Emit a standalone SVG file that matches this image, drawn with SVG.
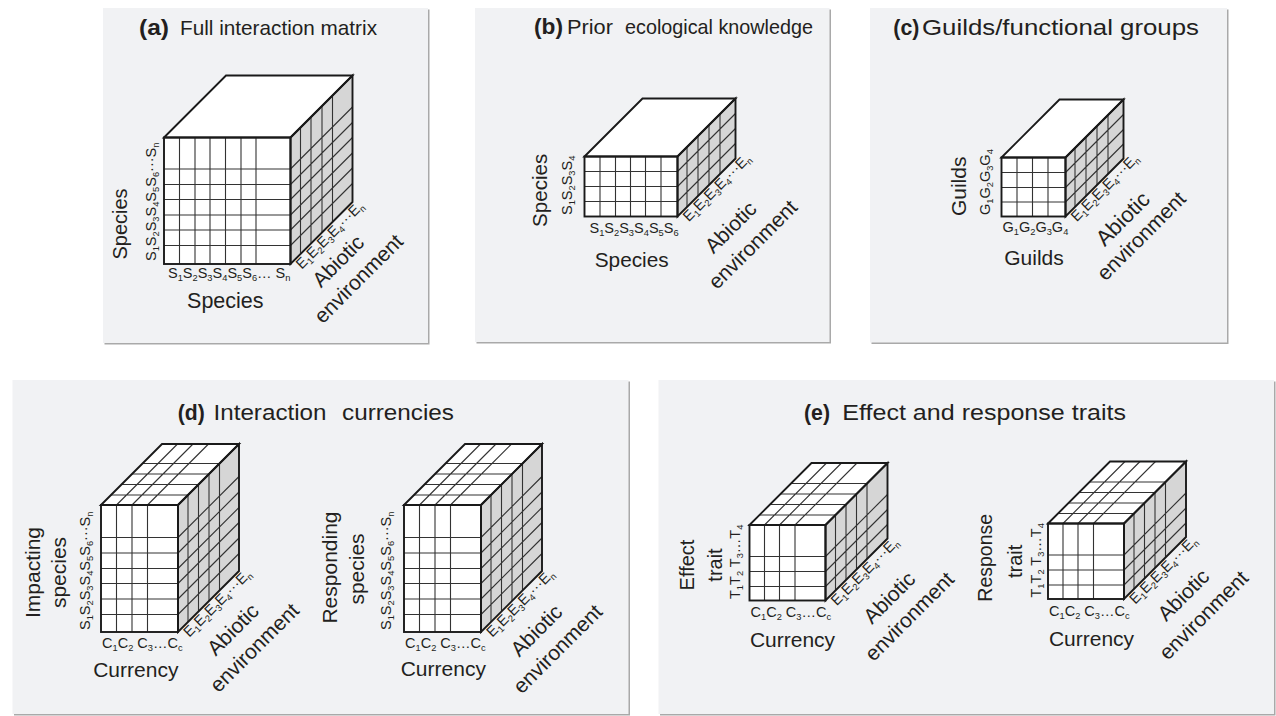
<svg xmlns="http://www.w3.org/2000/svg" width="1276" height="716" viewBox="0 0 1276 716">
<style>
.pbg{fill:#f1f2f4}
.psh{fill:#a9a9a9}
.fw{fill:#fff}
.fg{fill:#d6d6d6}
.gl{fill:none;stroke:#333;stroke-width:1.1}
.ed{fill:none;stroke:#1a1a1a;stroke-width:1.9;stroke-linejoin:miter}
text{font-family:"Liberation Sans",Arial,Helvetica,sans-serif;fill:#231f20}
.ti{font-size:21px}
.tl{font-size:22.5px}
.tb{font-weight:bold;font-size:22px}
.ax{font-size:21px}
.tk{font-size:14.5px}
.s{font-size:9.3px;baseline-shift:-3px}
</style>
<defs>
<g id="cubeD">
<rect class="fw" x="0" y="0" width="77" height="127"/>
<polygon class="fg" points="77,0 138,-61 138,66 77,127"/>
<polygon class="fw" points="0,0 61,-61 138,-61 77,0"/>
<path class="gl" d="M15.5 0V127M31 0V127M46.5 0V127M0 32.5H77M0 48H77M0 63.5H77M0 78.5H77M0 94H77M0 109.5H77"/>
<path class="gl" d="M87 -10V117M97.5 -20.5V106.5M108 -31V96M118.5 -41.5V85.5M77 32.5l61 -61M77 48l61 -61M77 63.5l61 -61M77 78.5l61 -61M77 94l61 -61M77 109.5l61 -61"/>
<path class="gl" d="M15.5 0l61 -61M31 0l61 -61M46.5 0l61 -61M10 -10H87M20.5 -20.5H97.5M31 -31H108M41.5 -41.5H118.5"/>
<rect class="ed" x="0" y="0" width="77" height="127"/>
<polygon class="ed" points="77,0 138,-61 138,66 77,127"/>
<polygon class="ed" points="0,0 61,-61 138,-61 77,0"/>
</g>
<g id="cubeE">
<rect class="fw" x="0" y="0" width="76" height="75.5"/>
<polygon class="fg" points="76,0 138,-62 138,13.5 76,75.5"/>
<polygon class="fw" points="0,0 62,-62 138,-62 76,0"/>
<path class="gl" d="M15 0V75.5M30 0V75.5M45.5 0V75.5M0 31.5H76M0 46.5H76M0 61.5H76"/>
<path class="gl" d="M86 -10V65.5M96.5 -20.5V55M107 -31V44.5M117.5 -41.5V34M76 31.5l62 -62M76 46.5l62 -62M76 61.5l62 -62"/>
<path class="gl" d="M15 0l62 -62M30 0l62 -62M45.5 0l62 -62M10 -10H86M20.5 -20.5H96.5M31 -31H107M41.5 -41.5H117.5"/>
<rect class="ed" x="0" y="0" width="76" height="75.5"/>
<polygon class="ed" points="76,0 138,-62 138,13.5 76,75.5"/>
<polygon class="ed" points="0,0 62,-62 138,-62 76,0"/>
</g>
</defs>

<g id="panel-a">
<rect class="psh" x="104.5" y="9.5" width="325" height="335"/>
<rect class="pbg" x="103" y="8" width="325" height="335"/>
<text class="tb" x="139" y="35" textLength="30" lengthAdjust="spacingAndGlyphs">(a)</text>
<text class="ti" x="180" y="35" textLength="197" lengthAdjust="spacingAndGlyphs">Full interaction matrix</text>
<g id="cube-a">
<rect class="fw" x="164" y="137.5" width="126.5" height="126.5"/>
<polygon class="fg" points="290.5,137.5 352.5,75.5 352.5,202 290.5,264"/>
<polygon class="fw" points="164,137.5 226,75.5 352.5,75.5 290.5,137.5"/>
<path class="gl" d="M179.5 137.5V264M195 137.5V264M210 137.5V264M225.5 137.5V264M241 137.5V264M256 137.5V264M164 169H290.5M164 184.5H290.5M164 199.5H290.5M164 215H290.5M164 230H290.5M164 245.5H290.5"/>
<path class="gl" d="M300.5 127.5V254M311 117V243.5M322 106V232.5M332.5 95.5V222M290.5 169l62 -62M290.5 184.5l62 -62M290.5 199.5l62 -62M290.5 215l62 -62M290.5 230l62 -62M290.5 245.5l62 -62"/>
<rect class="ed" x="164" y="137.5" width="126.5" height="126.5"/>
<polygon class="ed" points="290.5,137.5 352.5,75.5 352.5,202 290.5,264"/>
<polygon class="ed" points="164,137.5 226,75.5 352.5,75.5 290.5,137.5"/>
</g>
<text class="tk" transform="translate(156,261) rotate(-90)">S<tspan class="s">1</tspan>S<tspan class="s">2</tspan>S<tspan class="s">3</tspan>S<tspan class="s">4</tspan>S<tspan class="s">5</tspan>S<tspan class="s">6</tspan>···S<tspan class="s">n</tspan></text>
<text class="tk" x="168" y="278">S<tspan class="s">1</tspan>S<tspan class="s">2</tspan>S<tspan class="s">3</tspan>S<tspan class="s">4</tspan>S<tspan class="s">5</tspan>S<tspan class="s">6</tspan>… S<tspan class="s">n</tspan></text>
<text class="ax" transform="translate(127,224) rotate(-90)" text-anchor="middle" style="font-size:20px">Species</text>
<text class="ax" x="225.3" y="308" text-anchor="middle" style="font-size:21.5px">Species</text>
<text class="tk" transform="translate(290.5,264) rotate(-45)" x="4" y="12">E<tspan class="s">1</tspan>E<tspan class="s">2</tspan>E<tspan class="s">3</tspan>E<tspan class="s">4</tspan>···E<tspan class="s">n</tspan></text>
<g transform="translate(343.2,266.2) rotate(-45)" text-anchor="middle">
<text class="ax" x="0" y="0">Abiotic</text>
<text class="ax" x="2" y="26.7">environment</text>
</g>
</g>

<g id="panel-b">
<rect class="psh" x="476.5" y="9.5" width="354.5" height="334"/>
<rect class="pbg" x="475" y="8" width="354.5" height="334"/>
<text class="tb" x="534" y="34" textLength="29" lengthAdjust="spacingAndGlyphs">(b)</text>
<text class="ti" x="567" y="34" textLength="46" lengthAdjust="spacingAndGlyphs">Prior</text>
<text class="ti" x="625" y="34" textLength="188" lengthAdjust="spacingAndGlyphs">ecological knowledge</text>
<g id="cube-b">
<rect class="fw" x="584.5" y="156.5" width="93" height="60"/>
<polygon class="fg" points="677.5,156.5 735.5,98.5 735.5,158.5 677.5,216.5"/>
<polygon class="fw" points="584.5,156.5 642.5,98.5 735.5,98.5 677.5,156.5"/>
<path class="gl" d="M600 156.5V216.5M615.5 156.5V216.5M630.5 156.5V216.5M645.5 156.5V216.5M661 156.5V216.5M584.5 171.5H677.5M584.5 186.5H677.5M584.5 201.5H677.5"/>
<path class="gl" d="M687 147V207M698 136V196M709 125V185M720 114V174M677.5 171.5l58 -58M677.5 186.5l58 -58M677.5 201.5l58 -58"/>
<rect class="ed" x="584.5" y="156.5" width="93" height="60"/>
<polygon class="ed" points="677.5,156.5 735.5,98.5 735.5,158.5 677.5,216.5"/>
<polygon class="ed" points="584.5,156.5 642.5,98.5 735.5,98.5 677.5,156.5"/>
</g>
<text class="tk" transform="translate(572,215) rotate(-90)">S<tspan class="s">1</tspan>S<tspan class="s">2</tspan>S<tspan class="s">3</tspan>S<tspan class="s">4</tspan></text>
<text class="tk" x="589.5" y="233">S<tspan class="s">1</tspan>S<tspan class="s">2</tspan>S<tspan class="s">3</tspan>S<tspan class="s">4</tspan>S<tspan class="s">5</tspan>S<tspan class="s">6</tspan></text>
<text class="ax" transform="translate(547,190.3) rotate(-90)" text-anchor="middle" style="font-size:20.6px">Species</text>
<text class="ax" x="631.7" y="266.7" text-anchor="middle" style="font-size:20.8px">Species</text>
<text class="tk" transform="translate(677.5,216.5) rotate(-45)" x="4" y="12">E<tspan class="s">1</tspan>E<tspan class="s">2</tspan>E<tspan class="s">3</tspan>E<tspan class="s">4</tspan>···E<tspan class="s">n</tspan></text>
<g transform="translate(735.7,232.3) rotate(-45)" text-anchor="middle">
<text class="ax" x="0" y="0">Abiotic</text>
<text class="ax" x="3.5" y="27.8">environment</text>
</g>
</g>

<g id="panel-c">
<rect class="psh" x="871.5" y="9.5" width="357" height="334.5"/>
<rect class="pbg" x="870" y="8" width="357" height="334.5"/>
<text class="tb" x="893.3" y="35" textLength="26" lengthAdjust="spacingAndGlyphs">(c)</text>
<text class="tl" x="922" y="35" textLength="277" lengthAdjust="spacingAndGlyphs">Guilds/functional groups</text>
<g id="cube-c">
<rect class="fw" x="1001.5" y="157.5" width="64" height="59"/>
<polygon class="fg" points="1065.5,157.5 1123.5,99.5 1123.5,158.5 1065.5,216.5"/>
<polygon class="fw" points="1001.5,157.5 1059.5,99.5 1123.5,99.5 1065.5,157.5"/>
<path class="gl" d="M1017 157.5V216.5M1032.5 157.5V216.5M1048 157.5V216.5M1001.5 172.5H1065.5M1001.5 187.5H1065.5M1001.5 202H1065.5"/>
<path class="gl" d="M1075 148V207M1086 137V196M1097 126V185M1108 115V174M1065.5 172.5l58 -58M1065.5 187.5l58 -58M1065.5 202l58 -58"/>
<rect class="ed" x="1001.5" y="157.5" width="64" height="59"/>
<polygon class="ed" points="1065.5,157.5 1123.5,99.5 1123.5,158.5 1065.5,216.5"/>
<polygon class="ed" points="1001.5,157.5 1059.5,99.5 1123.5,99.5 1065.5,157.5"/>
</g>
<text class="tk" transform="translate(990,215) rotate(-90)">G<tspan class="s">1</tspan>G<tspan class="s">2</tspan>G<tspan class="s">3</tspan>G<tspan class="s">4</tspan></text>
<text class="tk" x="1002.5" y="232">G<tspan class="s">1</tspan>G<tspan class="s">2</tspan>G<tspan class="s">3</tspan>G<tspan class="s">4</tspan></text>
<text class="ax" transform="translate(966,186.3) rotate(-90)" text-anchor="middle">Guilds</text>
<text class="ax" x="1034" y="265" text-anchor="middle">Guilds</text>
<text class="tk" transform="translate(1065.5,216.5) rotate(-45)" x="4" y="12">E<tspan class="s">1</tspan>E<tspan class="s">2</tspan>E<tspan class="s">3</tspan>E<tspan class="s">4</tspan>···E<tspan class="s">n</tspan></text>
<g transform="translate(1128,224) rotate(-45)" text-anchor="middle">
<text class="ax" x="0" y="0" style="font-size:22px">Abiotic</text>
<text class="ax" x="1" y="25">environment</text>
</g>
</g>

<g id="panel-d">
<rect class="psh" x="14" y="381.5" width="616" height="334"/>
<rect class="pbg" x="12.5" y="380" width="616" height="334"/>
<text class="tb" x="177.7" y="420" textLength="27" lengthAdjust="spacingAndGlyphs">(d)</text>
<text class="tl" x="213.5" y="420" textLength="113" lengthAdjust="spacingAndGlyphs">Interaction</text>
<text class="tl" x="342" y="420" textLength="112" lengthAdjust="spacingAndGlyphs">currencies</text>
<g id="cube-d1">
<use href="#cubeD" transform="translate(101,505)"/>
<text class="ax" transform="translate(40,572.5) rotate(-90)" text-anchor="middle">Impacting</text>
<text class="ax" transform="translate(65.5,572.5) rotate(-90)" text-anchor="middle">species</text>
<text class="tk" transform="translate(90,630) rotate(-90)">S<tspan class="s">1</tspan>S<tspan class="s">2</tspan>S<tspan class="s">3</tspan>S<tspan class="s">4</tspan>S<tspan class="s">5</tspan>S<tspan class="s">6</tspan>···S<tspan class="s">n</tspan></text>
<text class="tk" x="102" y="648">C<tspan class="s">1</tspan>C<tspan class="s">2</tspan> C<tspan class="s">3</tspan>…C<tspan class="s">c</tspan></text>
<text class="ax" x="135.8" y="676.5" text-anchor="middle">Currency</text>
<text class="tk" transform="translate(178,632) rotate(-45)" x="4" y="12">E<tspan class="s">1</tspan>E<tspan class="s">2</tspan>E<tspan class="s">3</tspan>E<tspan class="s">4</tspan>···E<tspan class="s">n</tspan></text>
<g transform="translate(238,634.5) rotate(-45)" text-anchor="middle">
<text class="ax" x="0" y="0">Abiotic</text>
<text class="ax" x="2.3" y="28">environment</text>
</g>
</g>
<g id="cube-d2">
<use href="#cubeD" transform="translate(404,505)"/>
<text class="ax" transform="translate(337,567.5) rotate(-90)" text-anchor="middle">Responding</text>
<text class="ax" transform="translate(363.5,569) rotate(-90)" text-anchor="middle">species</text>
<text class="tk" transform="translate(391,630) rotate(-90)">S<tspan class="s">1</tspan>S<tspan class="s">2</tspan>S<tspan class="s">3</tspan>S<tspan class="s">4</tspan>S<tspan class="s">5</tspan>S<tspan class="s">6</tspan>···S<tspan class="s">n</tspan></text>
<text class="tk" x="405" y="648">C<tspan class="s">1</tspan>C<tspan class="s">2</tspan> C<tspan class="s">3</tspan>…C<tspan class="s">c</tspan></text>
<text class="ax" x="443.3" y="676" text-anchor="middle">Currency</text>
<text class="tk" transform="translate(481,632) rotate(-45)" x="4" y="12">E<tspan class="s">1</tspan>E<tspan class="s">2</tspan>E<tspan class="s">3</tspan>E<tspan class="s">4</tspan>···E<tspan class="s">n</tspan></text>
<g transform="translate(541.5,635.5) rotate(-45)" text-anchor="middle">
<text class="ax" x="0" y="0">Abiotic</text>
<text class="ax" x="2" y="28">environment</text>
</g>
</g>
</g>

<g id="panel-e">
<rect class="psh" x="660" y="381.5" width="615.5" height="334"/>
<rect class="pbg" x="658.5" y="380" width="615.5" height="334"/>
<text class="tb" x="804" y="420" textLength="26" lengthAdjust="spacingAndGlyphs">(e)</text>
<text class="tl" x="842.3" y="420" textLength="283.7" lengthAdjust="spacingAndGlyphs">Effect and response traits</text>
<g id="cube-e1">
<use href="#cubeE" transform="translate(749.5,525)"/>
<text class="ax" transform="translate(694,565) rotate(-90)" text-anchor="middle" style="font-size:20px">Effect</text>
<text class="ax" transform="translate(721.5,565) rotate(-90)" text-anchor="middle" style="font-size:20px">trait</text>
<text class="tk" transform="translate(740,599) rotate(-90)">T<tspan class="s">1</tspan>T<tspan class="s">2</tspan> T<tspan class="s">3</tspan>…T<tspan class="s">4</tspan></text>
<text class="tk" x="750.5" y="617">C<tspan class="s">1</tspan>C<tspan class="s">2</tspan> C<tspan class="s">3</tspan>…C<tspan class="s">c</tspan></text>
<text class="ax" x="792.5" y="646.7" text-anchor="middle">Currency</text>
<text class="tk" transform="translate(825.5,600.5) rotate(-45)" x="4" y="12">E<tspan class="s">1</tspan>E<tspan class="s">2</tspan>E<tspan class="s">3</tspan>E<tspan class="s">4</tspan>···E<tspan class="s">n</tspan></text>
<g transform="translate(894.4,602.7) rotate(-45)" text-anchor="middle">
<text class="ax" x="0" y="0">Abiotic</text>
<text class="ax" x="1" y="27.4">environment</text>
</g>
</g>
<g id="cube-e2">
<use href="#cubeE" transform="translate(1048,523.5)"/>
<text class="ax" transform="translate(992,557.8) rotate(-90)" text-anchor="middle" style="font-size:19.5px">Response</text>
<text class="ax" transform="translate(1022,561.3) rotate(-90)" text-anchor="middle" style="font-size:20px">trait</text>
<text class="tk" transform="translate(1041,597.5) rotate(-90)">T<tspan class="s">1</tspan>T<tspan class="s">2</tspan> T<tspan class="s">3</tspan>…T<tspan class="s">4</tspan></text>
<text class="tk" x="1049" y="615.5">C<tspan class="s">1</tspan>C<tspan class="s">2</tspan> C<tspan class="s">3</tspan>…C<tspan class="s">c</tspan></text>
<text class="ax" x="1091.5" y="646" text-anchor="middle">Currency</text>
<text class="tk" transform="translate(1124,599) rotate(-45)" x="4" y="12">E<tspan class="s">1</tspan>E<tspan class="s">2</tspan>E<tspan class="s">3</tspan>E<tspan class="s">4</tspan>···E<tspan class="s">n</tspan></text>
<g transform="translate(1188.5,600) rotate(-45)" text-anchor="middle">
<text class="ax" x="0" y="0">Abiotic</text>
<text class="ax" x="0" y="28.5">environment</text>
</g>
</g>
</g>
<g id="connectors"/>
</svg>
